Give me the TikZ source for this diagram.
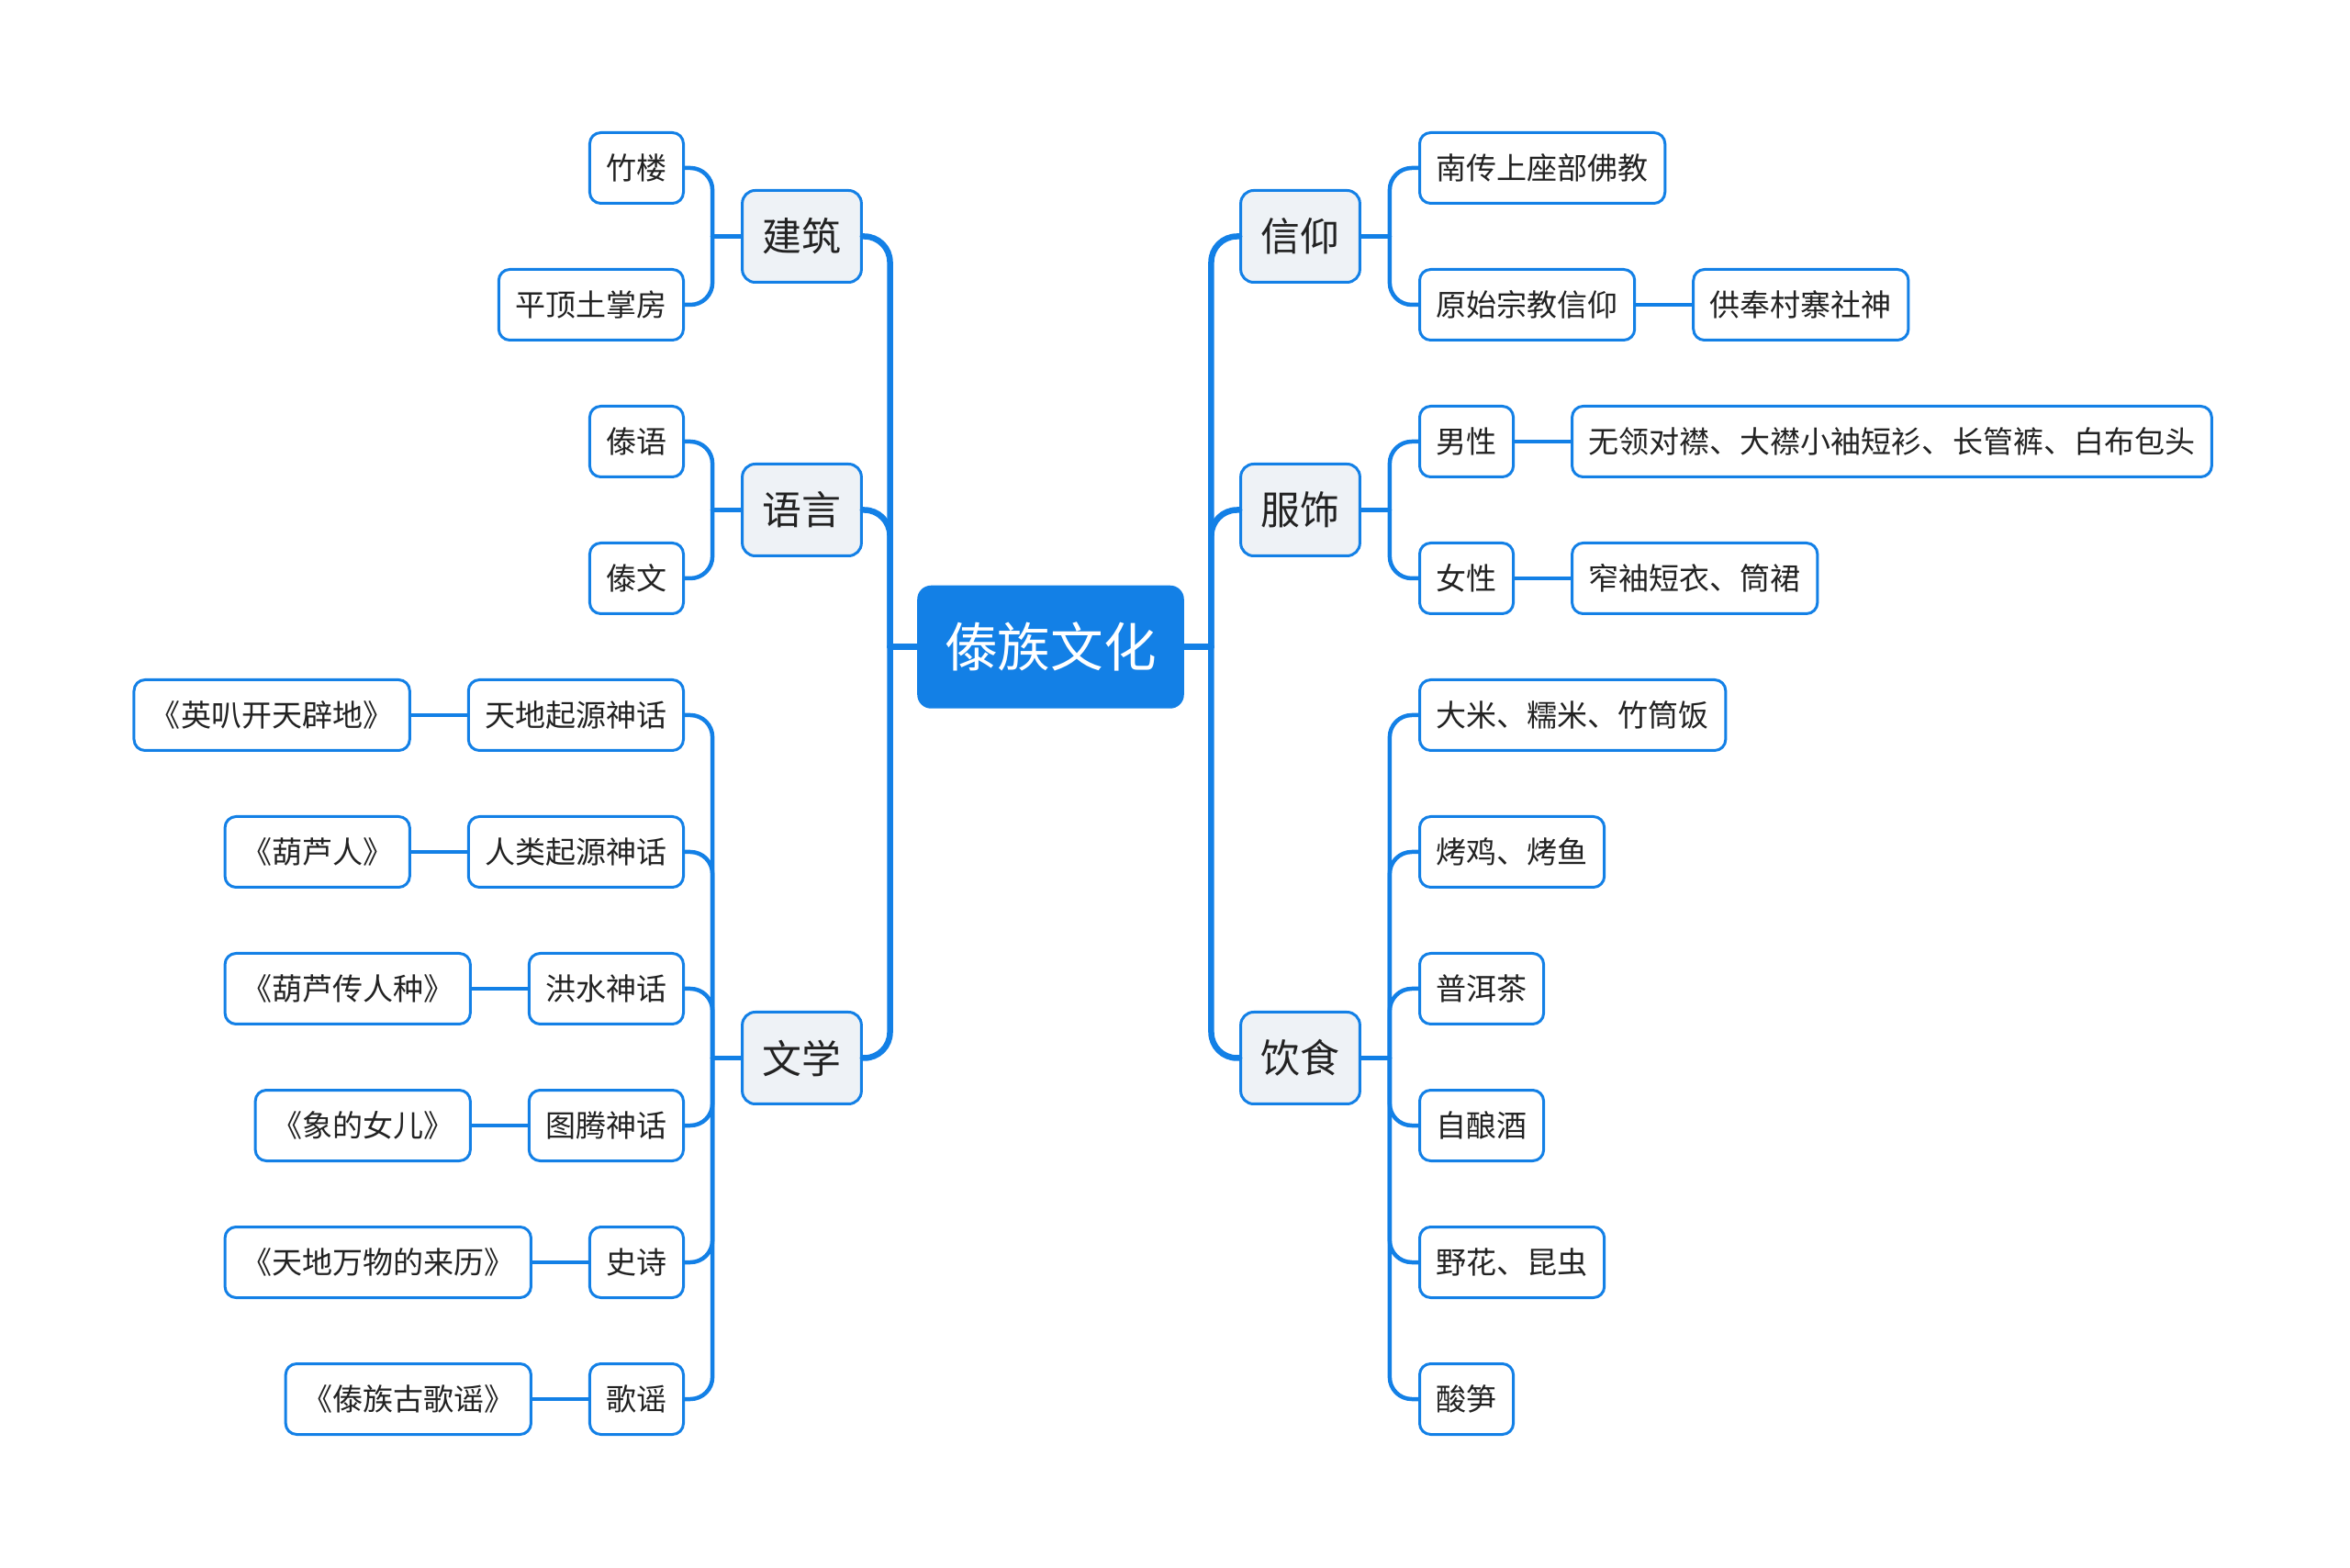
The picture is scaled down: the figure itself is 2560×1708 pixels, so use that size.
\documentclass[tikz,border=0pt]{standalone}
\usepackage{fontspec}
\setmainfont{Noto Sans CJK SC}
\usetikzlibrary{positioning}
\definecolor{mapblue}{HTML}{1380E6}
\definecolor{topicgray}{HTML}{EEF2F6}
\definecolor{inkgray}{HTML}{222222}
\begin{document}
\begin{tikzpicture}[x=0.1mm, y=-0.1mm, line join=round, line cap=round,
    root/.style={fill=mapblue, text=white, rounded corners=1.5mm, minimum height=13.4mm,
      inner xsep=3mm, inner ysep=0pt, font=\fontsize{16.4}{18}\selectfont},
    topic/.style={draw=mapblue, fill=topicgray, line width=0.3mm, rounded corners=1.4mm,
      minimum height=10mm, inner xsep=2.2mm, inner ysep=0pt, text=inkgray,
      font=\fontsize{12.2}{14}\selectfont},
    leaf/.style={draw=mapblue, fill=white, line width=0.3mm, rounded corners=1.2mm,
      minimum height=7.7mm, inner xsep=1.8mm, inner ysep=0pt, text=inkgray,
      font=\fontsize{9.4}{11}\selectfont},
    trunk/.style={draw=mapblue, line width=0.65mm, rounded corners=2.8mm},
    twig/.style={draw=mapblue, line width=0.45mm, rounded corners=2.4mm},
    node distance=6.1mm]
  \useasboundingbox (0,0) rectangle (2560,1708);

  % centre and main topics
  \node[root] (dz) at (1144.5,704.75) {傣族文化};
  \node[topic] (jz) at (873.5,257.5) {建筑};
  \node[topic] (yy) at (873.5,555.5) {语言};
  \node[topic] (wx) at (873.5,1152.5) {文学};
  \node[topic] (xy) at (1416.5,257.5) {信仰};
  \node[topic] (fs) at (1416.5,555.5) {服饰};
  \node[topic] (ys) at (1416.5,1152.5) {饮食};

  \path (dz.west) ++(-29,0) coordinate (lbus);
  \path (dz.east) ++(29,0) coordinate (rbus);
  \draw[trunk] (dz.west) -- (lbus);
  \draw[trunk] (dz.east) -- (rbus);
  \foreach \t in {jz,yy,wx}
    \draw[trunk] (lbus) |- (\t.east);
  \foreach \t in {xy,fs,ys}
    \draw[trunk] (rbus) |- (\t.west);

  % left: 建筑, 语言
  \node[leaf, anchor=east] (jz1) at (746,183) {竹楼};
  \node[leaf, anchor=east] (jz2) at (746,332) {平顶土掌房};
  \node[leaf, anchor=east] (yy1) at (746,481) {傣语};
  \node[leaf, anchor=east] (yy2) at (746,630) {傣文};
  \path (jz.west) ++(-31,0) coordinate (jzbus);
  \path (yy.west) ++(-31,0) coordinate (yybus);
  \draw[twig] (jz.west) -- (jzbus);
  \draw[twig] (yy.west) -- (yybus);
  \foreach \t in {jz1,jz2}
    \draw[twig] (jzbus) |- (\t.east);
  \foreach \t in {yy1,yy2}
    \draw[twig] (yybus) |- (\t.east);

  % left: 文学
  \path (wx.west) ++(-31,0) coordinate (wxbus);
  \draw[twig] (wx.west) -- (wxbus);
  \foreach \a/\b [count=\i from 4] in {天地起源神话/《英叭开天辟地》, 人类起源神话/《葫芦人》,
      洪水神话/《葫芦传人种》, 图腾神话/《象的女儿》, 史诗/《天地万物的来历》, 歌谣/《傣族古歌谣》}{
    \node[leaf, anchor=east] (wx\i) at (746,{183+149*\i}) {\a};
    \node[leaf, left=of wx\i] (wxs\i) {\b};
    \draw[twig] (wx\i.west) -- (wxs\i.east);
    \draw[twig] (wxbus) |- (wx\i.east);
  }

  % right: 信仰, 服饰
  \node[leaf, anchor=west] (xy1) at (1545,183) {南传上座部佛教};
  \node[leaf, anchor=west] (xy2) at (1545,332) {原始宗教信仰};
  \node[leaf, right=of xy2] (xy3) {供奉村寨社神};
  \node[leaf, anchor=west] (fs1) at (1545,481) {男性};
  \node[leaf, right=of fs1] (fs3) {无领对襟、大襟小袖短衫、长管裤、白布包头};
  \node[leaf, anchor=west] (fs2) at (1545,630) {女性};
  \node[leaf, right=of fs2] (fs4) {窄袖短衣、筒裙};
  \path (xy.east) ++(31,0) coordinate (xybus);
  \path (fs.east) ++(31,0) coordinate (fsbus);
  \draw[twig] (xy.east) -- (xybus);
  \draw[twig] (fs.east) -- (fsbus);
  \foreach \t in {xy1,xy2}
    \draw[twig] (xybus) |- (\t.west);
  \foreach \t in {fs1,fs2}
    \draw[twig] (fsbus) |- (\t.west);
  \draw[twig] (xy2.east) -- (xy3.west);
  \draw[twig] (fs1.east) -- (fs3.west);
  \draw[twig] (fs2.east) -- (fs4.west);

  % right: 饮食
  \path (ys.east) ++(31,0) coordinate (ysbus);
  \draw[twig] (ys.east) -- (ysbus);
  \foreach \t [count=\i from 4] in {大米、糯米、竹筒饭, 烤鸡、烤鱼, 普洱茶, 自酿酒, 野花、昆虫, 酸笋}{
    \node[leaf, anchor=west] (ys\i) at (1545,{183+149*\i}) {\t};
    \draw[twig] (ysbus) |- (ys\i.west);
  }
\end{tikzpicture}
\end{document}
